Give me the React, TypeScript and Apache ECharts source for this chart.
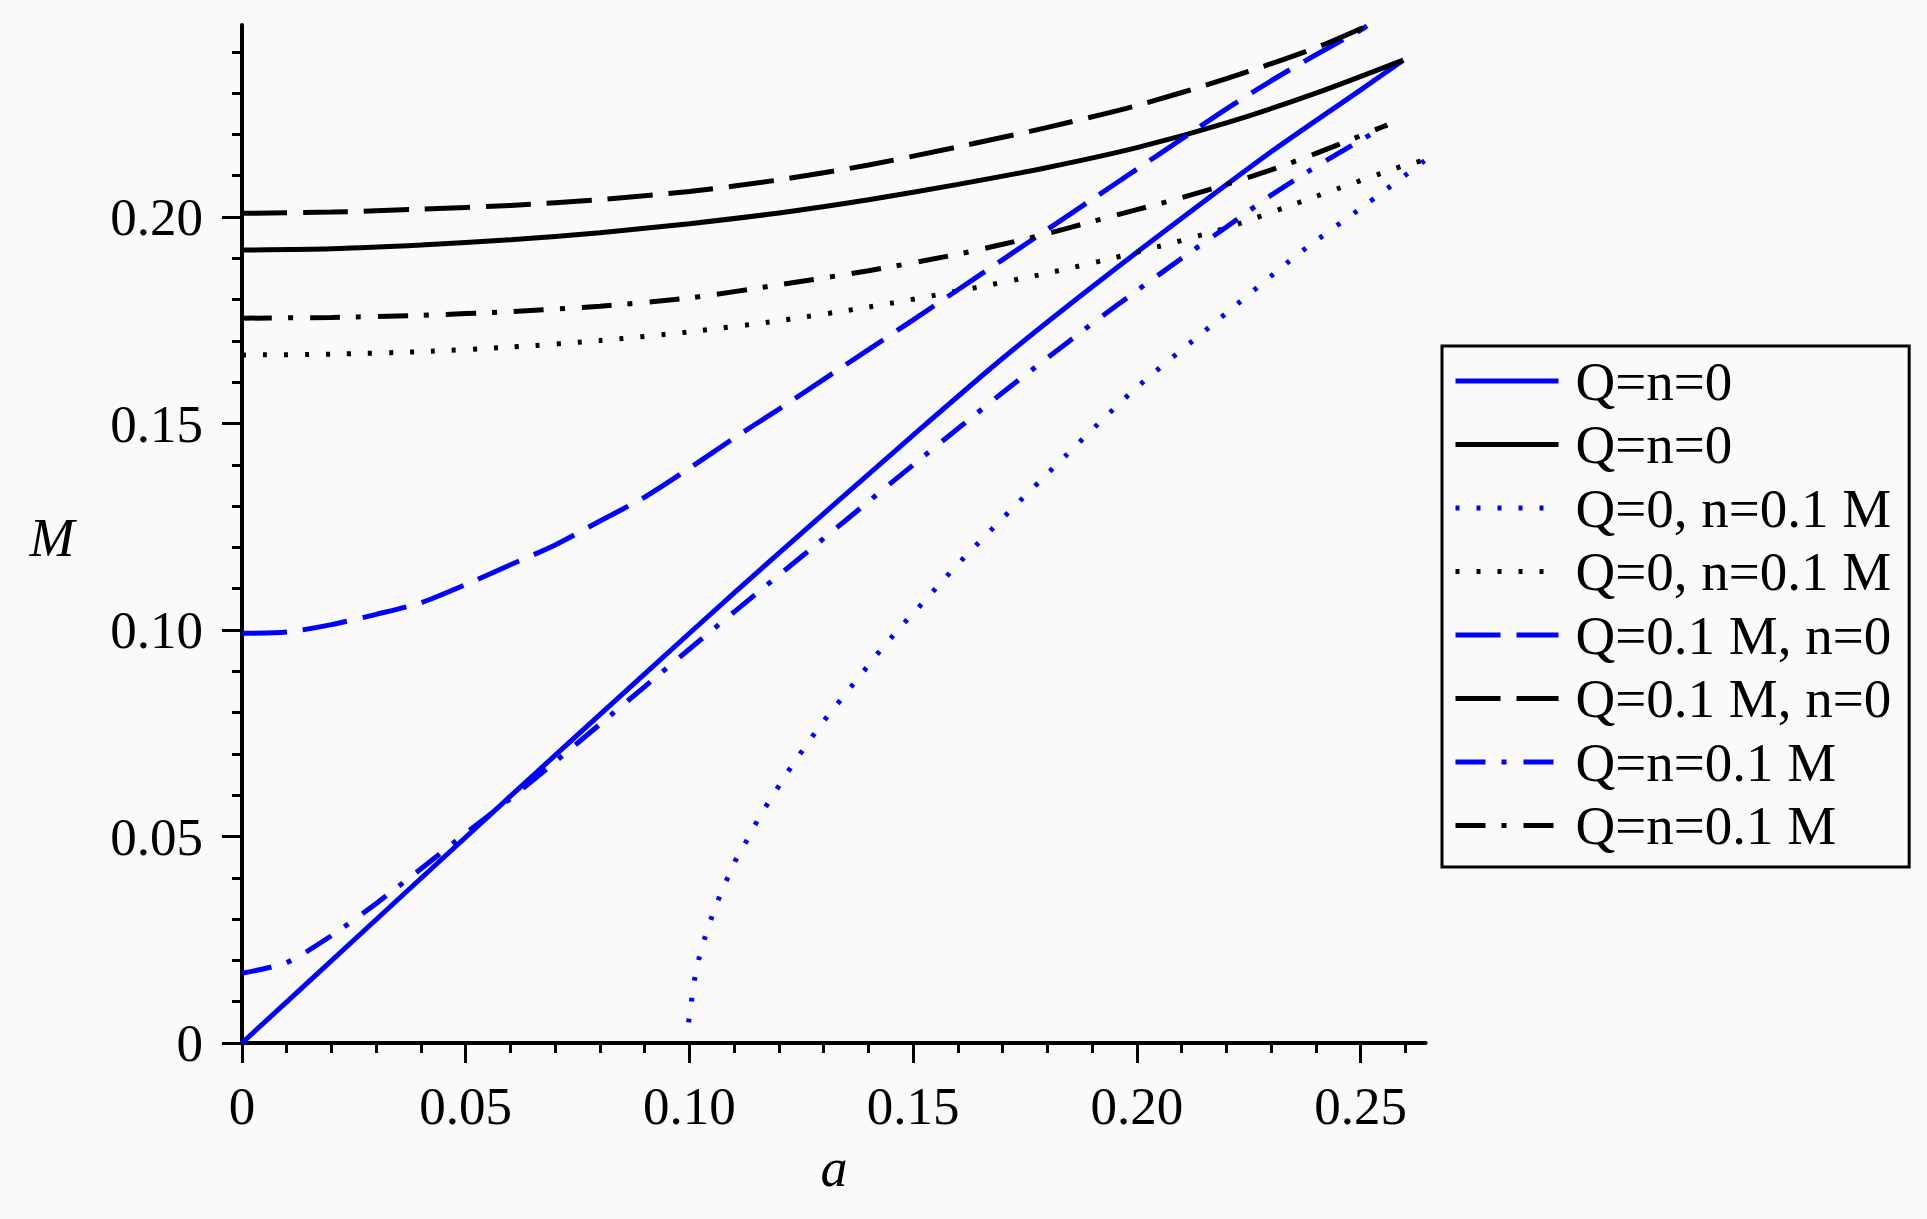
import React, { useEffect, useRef } from 'react';
import * as echarts from 'echarts';

// ---- axis ticks ----
const xTicks = [0, 0.05, 0.1, 0.15, 0.2, 0.25];
const xTickLabels = ['0', '0.05', '0.10', '0.15', '0.20', '0.25'];
const xMinorTicks = [0.01, 0.02, 0.03, 0.04, 0.06, 0.07, 0.08, 0.09, 0.11, 0.12, 0.13, 0.14, 0.16, 0.17, 0.18, 0.19, 0.21, 0.22, 0.23, 0.24, 0.26];
const yTicks = [0, 0.05, 0.1, 0.15, 0.2];
const yTickLabels = ['0', '0.05', '0.10', '0.15', '0.20'];
const yMinorTicks = [0.01, 0.02, 0.03, 0.04, 0.06, 0.07, 0.08, 0.09, 0.11, 0.12, 0.13, 0.14, 0.16, 0.17, 0.18, 0.19, 0.21, 0.22, 0.23, 0.24];
const xMax = 0.2645;
const yMax = 0.2465;

// ---- legend labels ----
const legendLabels = ['Q=n=0', 'Q=n=0', 'Q=0, n=0.1 M', 'Q=0, n=0.1 M', 'Q=0.1 M, n=0', 'Q=0.1 M, n=0', 'Q=n=0.1 M', 'Q=n=0.1 M'];

// ---- series values [a, M] ----
const blueSolid = [[0, 0], [0.03, 0.0299], [0.06, 0.0598], [0.09, 0.0894], [0.11, 0.109], [0.13, 0.1282], [0.15, 0.1472], [0.17, 0.1658], [0.19, 0.1831], [0.21, 0.1997], [0.23, 0.2158], [0.25, 0.2308], [0.2595, 0.238]];
const blackSolid = [[0, 0.192], [0.02, 0.1923], [0.04, 0.1932], [0.06, 0.1945], [0.08, 0.1962], [0.1, 0.1984], [0.12, 0.201], [0.14, 0.2042], [0.16, 0.2079], [0.18, 0.212], [0.2, 0.2168], [0.22, 0.2228], [0.24, 0.23], [0.2595, 0.238]];
const blueDotted = [[0.0998, 0.005], [0.1005, 0.0106], [0.1012, 0.0158], [0.1022, 0.0208], [0.1035, 0.0257], [0.105, 0.0306], [0.1067, 0.0354], [0.1086, 0.0402], [0.1106, 0.0449], [0.113, 0.0494], [0.1152, 0.0539], [0.1176, 0.0582], [0.1202, 0.0626], [0.1228, 0.067], [0.1255, 0.0712], [0.1282, 0.0753], [0.1311, 0.0795], [0.1341, 0.0835], [0.1371, 0.0876], [0.1401, 0.0916], [0.1431, 0.0957], [0.1462, 0.0995], [0.1493, 0.1033], [0.1526, 0.1071], [0.1558, 0.111], [0.159, 0.1148], [0.1622, 0.1185], [0.1656, 0.1222], [0.1689, 0.1259], [0.1723, 0.1296], [0.1788, 0.1366], [0.1991, 0.1579], [0.2175, 0.1745], [0.236, 0.191], [0.2515, 0.2033], [0.2645, 0.2138]];
const blackDotted = [[0, 0.1666], [0.02, 0.1668], [0.04, 0.1674], [0.06, 0.1685], [0.08, 0.1701], [0.1, 0.1722], [0.12, 0.1749], [0.14, 0.1782], [0.16, 0.1821], [0.18, 0.1864], [0.2, 0.1915], [0.22, 0.1974], [0.24, 0.205], [0.26, 0.2126], [0.2645, 0.2138]];
const blueDashed = [[0, 0.0992], [0.01, 0.0995], [0.02, 0.1013], [0.03, 0.1038], [0.04, 0.1066], [0.05, 0.111], [0.06, 0.1158], [0.07, 0.1206], [0.08, 0.1264], [0.09, 0.1322], [0.1, 0.1392], [0.11, 0.1465], [0.12, 0.1535], [0.13, 0.1607], [0.14, 0.1679], [0.15, 0.1751], [0.16, 0.1824], [0.17, 0.1897], [0.18, 0.197], [0.19, 0.2043], [0.2, 0.2116], [0.21, 0.2189], [0.22, 0.2262], [0.23, 0.233], [0.24, 0.2393], [0.25, 0.2453], [0.2514, 0.2463]];
const blackDashed = [[0, 0.2009], [0.02, 0.2012], [0.04, 0.2019], [0.06, 0.2028], [0.08, 0.2042], [0.1, 0.2062], [0.12, 0.209], [0.14, 0.2126], [0.16, 0.217], [0.18, 0.2217], [0.2, 0.227], [0.22, 0.2335], [0.24, 0.241], [0.2514, 0.2463]];
const blueDashDot = [[0, 0.0169], [0.01, 0.0195], [0.02, 0.026], [0.03, 0.0338], [0.04, 0.0422], [0.05, 0.0508], [0.06, 0.0592], [0.07, 0.0681], [0.08, 0.0772], [0.09, 0.0863], [0.1, 0.0954], [0.11, 0.1044], [0.12, 0.1133], [0.13, 0.1222], [0.14, 0.1311], [0.15, 0.14], [0.16, 0.1488], [0.17, 0.1575], [0.18, 0.1659], [0.19, 0.1742], [0.2, 0.1822], [0.21, 0.19], [0.22, 0.1976], [0.23, 0.2053], [0.24, 0.2122], [0.25, 0.2186], [0.2559, 0.2223]];
const blackDashDot = [[0, 0.1755], [0.02, 0.1757], [0.04, 0.1762], [0.06, 0.1771], [0.08, 0.1784], [0.1, 0.1804], [0.12, 0.1836], [0.14, 0.187], [0.16, 0.191], [0.17, 0.1934], [0.18, 0.196], [0.19, 0.1989], [0.2, 0.2018], [0.21, 0.2047], [0.22, 0.2079], [0.23, 0.2114], [0.24, 0.2154], [0.25, 0.2197], [0.2559, 0.2223]];

const BLUE = '#0000ff';
const BLACK = '#000000';
const FONT = "'Liberation Serif', 'Times New Roman', serif";

const DOT = [4, 17];
const DASH = [45, 16];
const DASHDOT = [30, 16, 5, 17];
const LINE_W = 5;

const seriesDefs = [
  { data: blueSolid, color: BLUE, type: 'solid' as any },
  { data: blackSolid, color: BLACK, type: 'solid' as any },
  { data: blueDotted, color: BLUE, type: DOT },
  { data: blackDotted, color: BLACK, type: DOT },
  { data: blueDashed, color: BLUE, type: DASH },
  { data: blackDashed, color: BLACK, type: DASH },
  { data: blueDashDot, color: BLUE, type: DASHDOT },
  { data: blackDashDot, color: BLACK, type: DASHDOT },
];

function labelFor(ticks: number[], labels: string[], v: number) {
  for (let i = 0; i < ticks.length; i++) {
    if (Math.abs(ticks[i] - v) < 1e-9) return labels[i];
  }
  return '';
}

const tickLine = { color: BLACK, width: 3 };

function buildOption() {
  const names = legendLabels.map((l, i) => `${l}#${i}`);
  return {
    animation: false,
    backgroundColor: '#fafafa',
    grid: { left: 242, top: 25, width: 1183.6, height: 1018, containLabel: false },
    xAxis: [
      {
        type: 'value', min: 0, max: xMax, position: 'bottom',
        axisLine: { show: true, onZero: false, lineStyle: { color: BLACK, width: 4 } },
        axisTick: { show: true, inside: false, length: 20, customValues: xTicks, lineStyle: tickLine },
        axisLabel: {
          show: true, customValues: xTicks, margin: 36, color: BLACK, fontFamily: FONT, fontSize: 53,
          formatter: (v: number) => labelFor(xTicks, xTickLabels, v),
        },
        splitLine: { show: false },
      },
      {
        type: 'value', min: 0, max: xMax, position: 'bottom',
        axisLine: { show: false, onZero: false },
        axisTick: { show: true, inside: false, length: 10, customValues: xMinorTicks, lineStyle: tickLine },
        axisLabel: { show: false },
        splitLine: { show: false },
      },
    ],
    yAxis: [
      {
        type: 'value', min: 0, max: yMax, position: 'left',
        axisLine: { show: true, onZero: false, lineStyle: { color: BLACK, width: 4 } },
        axisTick: { show: true, inside: false, length: 20, customValues: yTicks, lineStyle: tickLine },
        axisLabel: {
          show: true, customValues: yTicks, margin: 39, color: BLACK, fontFamily: FONT, fontSize: 53,
          formatter: (v: number) => labelFor(yTicks, yTickLabels, v),
        },
        splitLine: { show: false },
      },
      {
        type: 'value', min: 0, max: yMax, position: 'left',
        axisLine: { show: false, onZero: false },
        axisTick: { show: true, inside: false, length: 10, customValues: yMinorTicks, lineStyle: tickLine },
        axisLabel: { show: false },
        splitLine: { show: false },
      },
    ],
    legend: {
      show: true,
      orient: 'vertical',
      left: 1442,
      top: 346,
      itemWidth: 103,
      itemHeight: 12,
      itemGap: 8.5,
      padding: [7.5, 18, 14, 11],
      borderColor: BLACK,
      borderWidth: 3,
      backgroundColor: '#fafafa',
      selectedMode: false,
      itemStyle: { opacity: 0, color: 'rgba(0,0,0,0)', borderWidth: 0 },
      lineStyle: { width: LINE_W, cap: 'butt' },
      textStyle: { fontFamily: FONT, fontSize: 55, color: BLACK, padding: [0, 0, 0, 12] },
      formatter: (name: string) => name.split('#')[0],
      data: names,
    },
    graphic: [
      {
        type: 'text', x: 834, y: 1168,
        style: { text: 'a', font: `italic 54px ${FONT}`, fill: BLACK, textAlign: 'center', textVerticalAlign: 'middle' },
      },
      {
        type: 'text', x: 52, y: 538,
        style: { text: 'M', font: `italic 54px ${FONT}`, fill: BLACK, textAlign: 'center', textVerticalAlign: 'middle' },
      },
    ],
    series: seriesDefs.map((s, i) => ({
      name: names[i],
      type: 'line',
      xAxisIndex: 0,
      yAxisIndex: 0,
      data: s.data,
      symbol: 'none',
      showSymbol: false,
      smooth: 0.25,
      clip: true,
      lineStyle: { color: s.color, width: LINE_W, type: s.type, cap: 'butt' },
      itemStyle: { color: s.color },
      emphasis: { disabled: true },
      z: 2 + i,
    })),
  };
}

export default function App() {
  const ref = useRef<HTMLDivElement>(null);
  useEffect(() => {
    if (!ref.current) return;
    const chart = echarts.init(ref.current, null, { renderer: 'svg' });
    chart.setOption(buildOption() as any);
    return () => chart.dispose();
  }, []);
  return <div ref={ref} style={{ position: 'fixed', left: 0, top: 0, width: 1927, height: 1219 }} />;
}
